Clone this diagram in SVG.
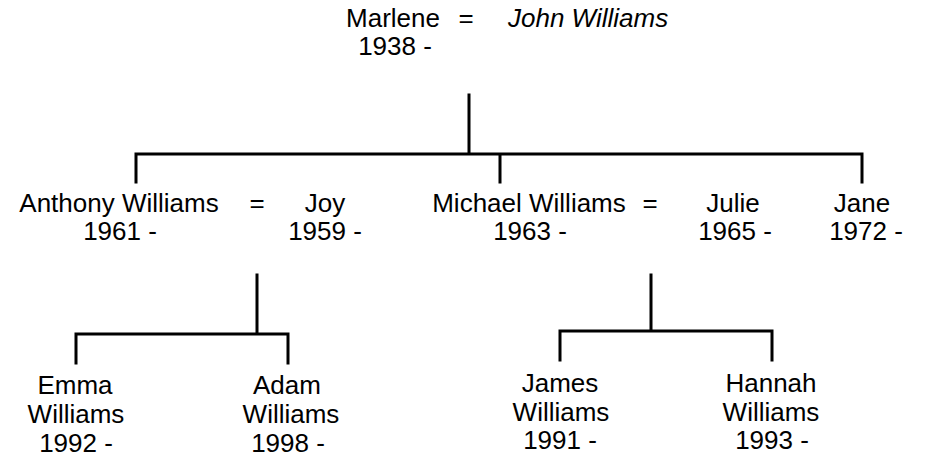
<svg xmlns="http://www.w3.org/2000/svg" width="926" height="459" viewBox="0 0 926 459">
<style>
text{font-family:"Liberation Sans",Arial,sans-serif;font-size:26px;fill:#000;text-anchor:middle}
.it{font-style:italic;text-anchor:start}
.ln{stroke:#000;stroke-width:3;fill:none;stroke-linecap:square}
</style>
<rect width="926" height="459" fill="#fff"/>
<g id="connectors">
<path class="ln" d="M469 95V154M136 154H862M136 154V182M500 154V182M862 154V182"/>
<path class="ln" d="M257 275V334M76 334H288M76 334V363M288 334V363"/>
<path class="ln" d="M651 275V331M560 331H772M560 331V360M772 331V360"/>
</g>
<g id="marlene"><text x="393" y="27">Marlene</text><text x="395" y="55">1938 -</text></g>
<g id="eq1"><text x="466" y="27">=</text></g>
<g id="john"><text class="it" x="508" y="27">John Williams</text></g>
<g id="anthony"><text x="119" y="212">Anthony Williams</text><text x="120" y="240">1961 -</text></g>
<g id="eq2"><text x="257" y="212">=</text></g>
<g id="joy"><text x="325" y="212">Joy</text><text x="325" y="240">1959 -</text></g>
<g id="michael"><text x="529" y="212">Michael Williams</text><text x="530" y="240">1963 -</text></g>
<g id="eq3"><text x="650" y="212">=</text></g>
<g id="julie"><text x="733" y="212">Julie</text><text x="735" y="240">1965 -</text></g>
<g id="jane"><text x="862" y="212">Jane</text><text x="866" y="240">1972 -</text></g>
<g id="emma"><text x="75" y="394">Emma</text><text x="76" y="423">Williams</text><text x="76" y="452">1992 -</text></g>
<g id="adam"><text x="287" y="394">Adam</text><text x="291" y="423">Williams</text><text x="288" y="452">1998 -</text></g>
<g id="james"><text x="560" y="392">James</text><text x="561" y="421">Williams</text><text x="560" y="449">1991 -</text></g>
<g id="hannah"><text x="771" y="392">Hannah</text><text x="771" y="421">Williams</text><text x="772" y="449">1993 -</text></g>
</svg>
